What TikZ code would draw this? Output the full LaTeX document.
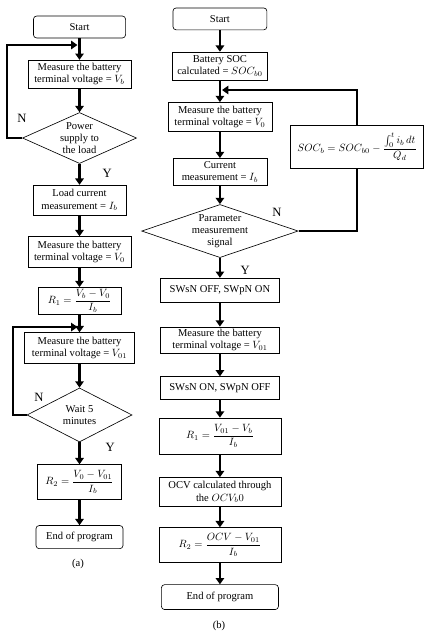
\documentclass[tikz,border=0pt]{standalone}
\usepackage{amsmath}
\usepackage{fontspec}
\setmainfont{Liberation Serif}
\usetikzlibrary{shapes.geometric,arrows.meta}

\begin{document}
\begin{tikzpicture}[
    every node/.style={font=\fontsize{10}{11.5}\selectfont},
    procbox/.style={draw, line width=0.6pt, rectangle, align=center, inner sep=1.5pt},
    termbox/.style={procbox, rounded corners=3pt},
    decision/.style={draw, line width=0.6pt, diamond, aspect=2, inner sep=0pt, align=center},
    flowline/.style={line width=2.4pt, -{Triangle[width=8pt,length=6pt]}},
    loopline/.style={line width=2.4pt},
    yesno/.style={font=\fontsize{12}{14}\selectfont}
  ]
  \useasboundingbox (0,0) rectangle (14.23,-21.13);

  % (a) left chart
  \begin{scope}
    \node (startA) at (2.65,-0.90) [termbox, minimum width=3.07cm, minimum height=0.73cm] {Start};
    \node (measA1) at (2.65,-2.47) [procbox, minimum width=3.43cm, minimum height=0.93cm] {Measure the battery\\ terminal voltage = $V_b$};
    \node (powerA) at (2.65,-4.60) [decision, minimum width=3.8cm, minimum height=1.7cm] {Power\\ supply to\\ the load};
    \node (loadA) at (2.65,-6.67) [procbox, minimum width=3.1cm, minimum height=1.0cm] {Load current\\ measurement = $I_b$};
    \node (measA2) at (2.65,-8.40) [procbox, minimum width=3.43cm, minimum height=1.03cm] {Measure the battery\\ terminal voltage = $V_0$};
    \node (resA1) at (2.65,-10.03) [procbox, minimum width=2.77cm, minimum height=0.9cm] {$R_1 = \dfrac{V_b - V_0}{I_b}$};
    \node (measA3) at (2.65,-11.60) [procbox, minimum width=3.67cm, minimum height=1.03cm] {Measure the battery\\ terminal voltage = $V_{01}$};
    \node (waitA) at (2.65,-13.83) [decision, minimum width=3.5cm, minimum height=1.8cm] {Wait 5\\ minutes};
    \node (resA2) at (2.65,-16.07) [procbox, minimum width=2.8cm, minimum height=1.17cm] {$R_2 = \dfrac{V_0 - V_{01}}{I_b}$};
    \node (endA) at (2.65,-17.90) [termbox, minimum width=2.9cm, minimum height=0.77cm] {End of program};
    \node (capA) at (2.60,-18.80) {(a)};

    \node (noA1) at (0.73,-3.93) [yesno] {N};
    \node (yesA1) at (3.57,-5.77) [yesno] {Y};
    \node (noA2) at (1.30,-13.23) [yesno] {N};
    \node (yesA2) at (3.67,-14.90) [yesno] {Y};

    \coordinate (joinA1) at (2.58,-1.50);
    \coordinate (joinA2) at (2.58,-10.90);

    \draw[flowline] (startA) -- (measA1);
    \draw[flowline] (measA1) -- (powerA);
    \draw[flowline] (powerA) -- (loadA);
    \draw[flowline] (loadA) -- (measA2);
    \draw[flowline] (measA2) -- (resA1);
    \draw[flowline] (resA1) -- (measA3);
    \draw[flowline] (measA3) -- (waitA);
    \draw[flowline] (waitA) -- (resA2);
    \draw[flowline] (resA2) -- (endA);
    \draw[flowline] (powerA.west) -- (0.23,-4.60) |- (joinA1);
    \draw[flowline] (waitA.west) -- (0.43,-13.83) |- (joinA2);
  \end{scope}

  % (b) right chart
  \begin{scope}
    \node (startB) at (7.33,-0.63) [termbox, minimum width=3.13cm, minimum height=0.73cm] {Start};
    \node (socB) at (7.33,-2.20) [procbox, minimum width=3.17cm, minimum height=0.93cm] {Battery SOC\\ calculated = $SOC_{b0}$};
    \node (measB1) at (7.33,-3.90) [procbox, minimum width=3.47cm, minimum height=0.97cm] {Measure the battery\\ terminal voltage = $V_0$};
    \node (curB) at (7.33,-5.73) [procbox, minimum width=3.13cm, minimum height=0.9cm] {Current\\ measurement = $I_b$};
    \node (intB) at (11.90,-4.90) [procbox, minimum width=4.43cm, minimum height=1.43cm] {$SOC_b = SOC_{b0} - \dfrac{\int_0^t i_b\,dt}{Q_d}$};
    \node (paramB) at (7.33,-7.70) [decision, aspect=3, minimum width=5.2cm, minimum height=1.77cm] {Parameter\\ measurement\\ signal};
    \node (swOffB) at (7.33,-9.67) [procbox, minimum width=3.97cm, minimum height=0.8cm] {SWsN OFF, SWpN ON};
    \node (measB2) at (7.33,-11.33) [procbox, minimum width=3.97cm, minimum height=0.87cm] {Measure the battery\\ terminal voltage = $V_{01}$};
    \node (swOnB) at (7.33,-12.93) [procbox, minimum width=3.97cm, minimum height=0.75cm] {SWsN ON, SWpN OFF};
    \node (resB1) at (7.33,-14.53) [procbox, minimum width=4.07cm, minimum height=1.2cm] {$R_1 = \dfrac{V_{01} - V_b}{I_b}$};
    \node (ocvB) at (7.33,-16.40) [procbox, minimum width=4.07cm, minimum height=0.97cm] {OCV calculated through\\ the $OCV_b0$};
    \node (resB2) at (7.33,-18.17) [procbox, minimum width=4.07cm, minimum height=1.17cm] {$R_2 = \dfrac{OCV - V_{01}}{I_b}$};
    \node (endB) at (7.33,-19.90) [termbox, minimum width=3.9cm, minimum height=0.83cm] {End of program};
    \node (capB) at (7.30,-20.87) {(b)};

    \node (noB) at (9.23,-7.07) [yesno] {N};
    \node (yesB) at (8.17,-9.00) [yesno] {Y};

    \coordinate (joinB) at (7.40,-3.00);

    \draw[flowline] (startB) -- (socB);
    \draw[flowline] (socB) -- (measB1);
    \draw[flowline] (measB1) -- (curB);
    \draw[flowline] (curB) -- (paramB);
    \draw[flowline] (paramB) -- (swOffB);
    \draw[flowline] (swOffB) -- (measB2);
    \draw[flowline] (measB2) -- (swOnB);
    \draw[flowline] (swOnB) -- (resB1);
    \draw[flowline] (resB1) -- (ocvB);
    \draw[flowline] (ocvB) -- (resB2);
    \draw[flowline] (resB2) -- (endB);
    \draw[loopline] (paramB.east) -| (intB.south);
    \draw[flowline] (intB.north) |- (joinB);
  \end{scope}
\end{tikzpicture}
\end{document}
